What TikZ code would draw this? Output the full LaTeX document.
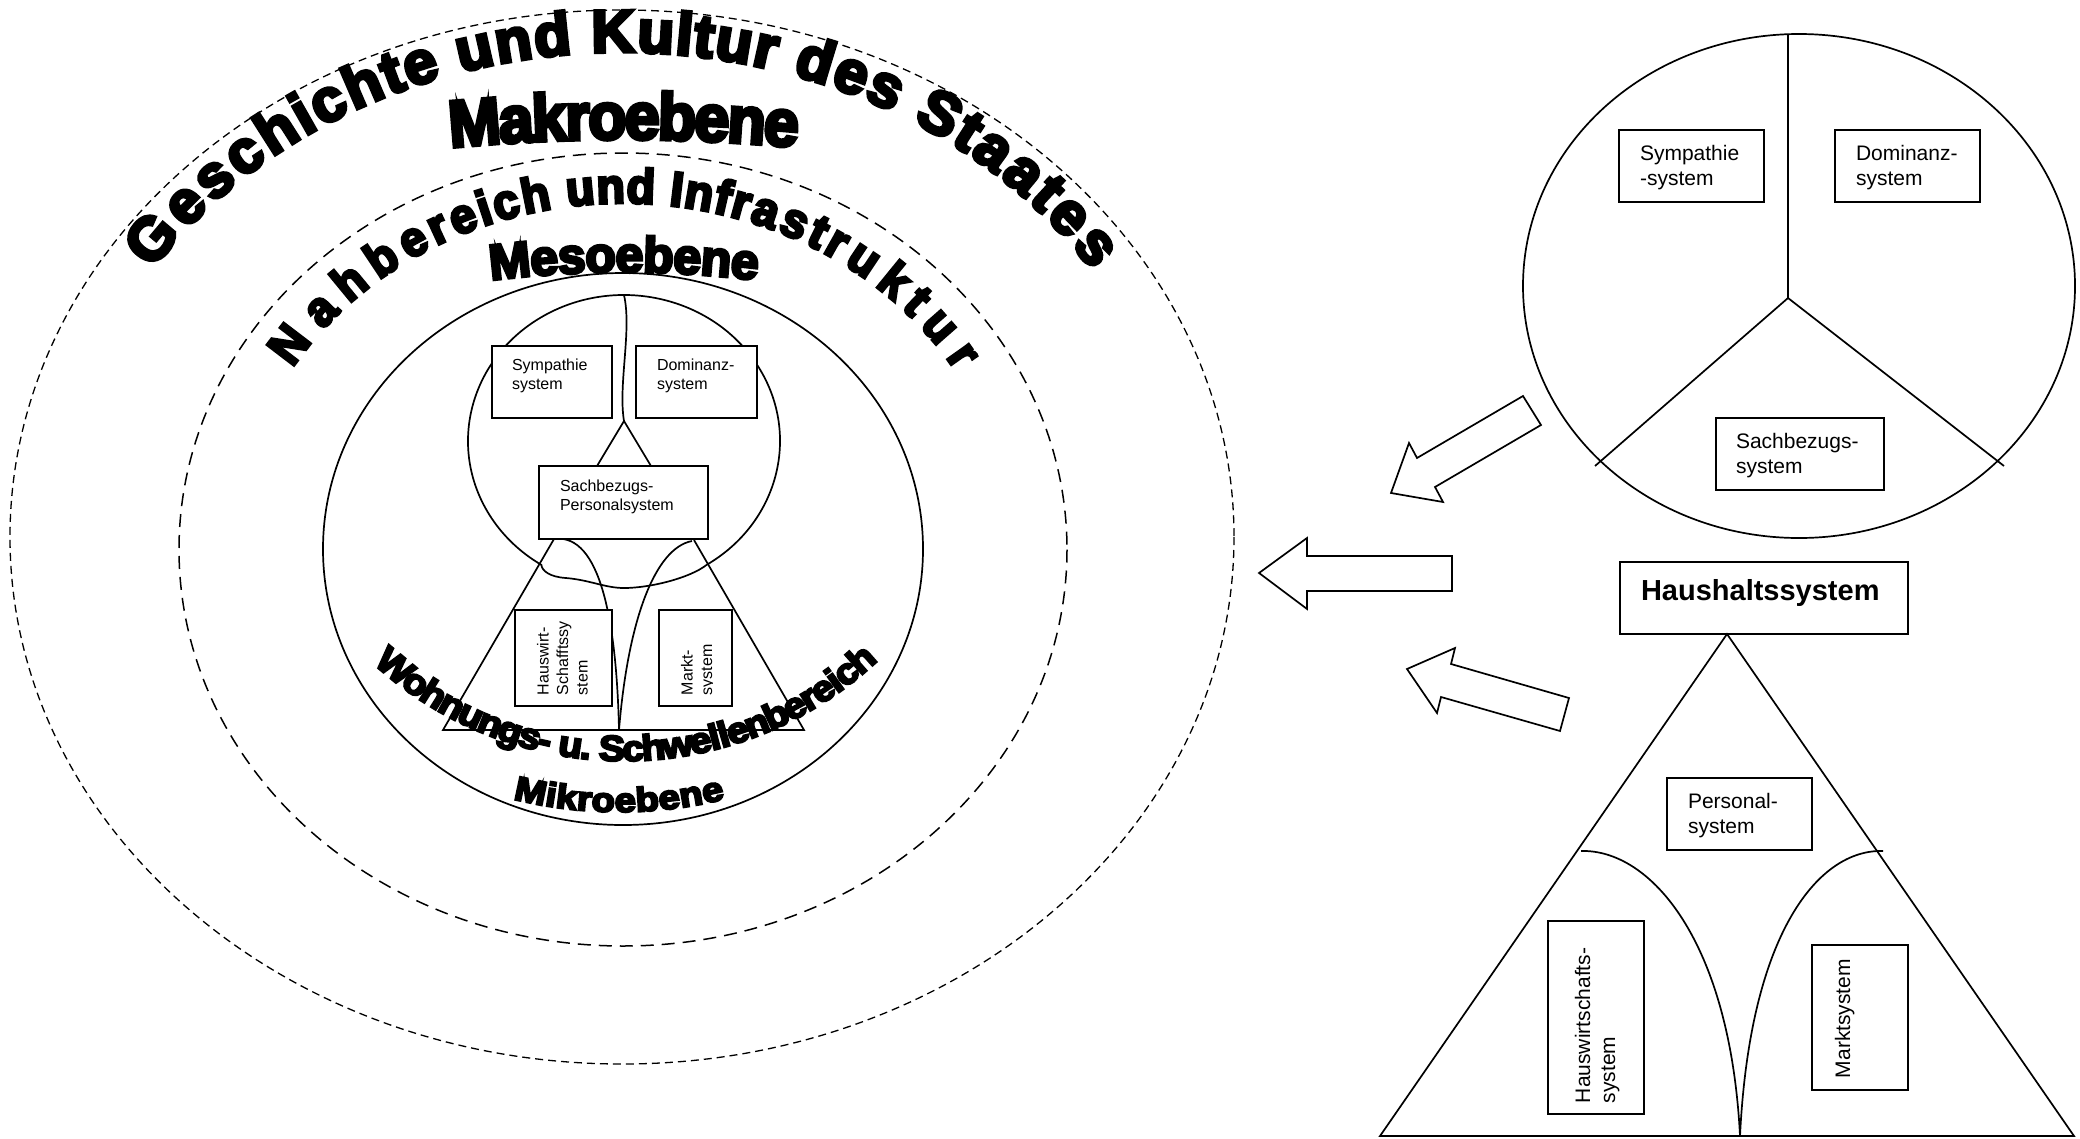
\documentclass[tikz,border=0pt]{standalone}
\usepackage{fontspec}
\setmainfont{Liberation Sans}
\newfontfamily\wafont{Liberation Sans}[BoldFeatures={FakeBold=6}]

% ---------- letters set one by one along an elliptic arc ----------
\newbox\archbox
\newcommand\arcgeom[8]{\def\archcx{#1}\def\archcy{#2}\def\archrx{#3}\def\archry{#4}%
  \def\archmid{#5}\def\archspan{#6}\def\archk{#7}\def\archdir{#8}}
\newcommand\arcfont[2]{%
  \def\archfont{\wafont\bfseries\fontsize{#1}{#1}\selectfont}%
  \def\archxs{#2}}
\newcommand\archmeasure[1]{%
  \setbox\archbox=\hbox{\pgfinterruptpicture\archfont#1\endpgfinterruptpicture}%
  \edef\archw{\the\wd\archbox}}
\newcommand\archtext[2]{% prefix, comma separated letters
  \gdef\archtot{0}%
  \foreach \ch in {#2}{%
    \archmeasure{\ch}%
    \pgfmathsetmacro\archtmp{\archtot+\archw}%
    \xdef\archtot{\archtmp}%
  }%
  \gdef\archacc{0}%
  \foreach \ch [count=\i] in {#2}{%
    \archmeasure{\ch}%
    \pgfmathsetmacro\archv{2*(\archacc+0.5*\archw)/\archtot-1}%
    \pgfmathsetmacro\archt{\archmid+(\archdir)*\archspan*((\archv)+\archk*(\archv)*(\archv)*(\archv))/(1+\archk)}%
    \pgfmathsetmacro\archrot{atan2(-1*(\archdir)*\archry*cos(\archt),-1*(\archdir)*\archrx*sin(\archt))}%
    \node[rotate=\archrot,ink letter] (#1-\i) at ({\archcx+\archrx*cos(\archt)},{\archcy+\archry*sin(\archt)}) {\archfont\ch};%
    \pgfmathsetmacro\archtmp{\archacc+\archw}%
    \xdef\archacc{\archtmp}%
  }%
}
% text block inside a box: width, height, top pad, left pad, lines
\newcommand\bxt[5]{\parbox[c][#2pt][t]{#1pt}{\vspace*{#3pt}\leftskip=#4pt\relax\strut #5}}

\begin{document}
\begin{tikzpicture}[x=1pt,y=-1pt,
  line/.style={line width=1.7pt},
  box/.style={draw,line width=1.7pt,fill=white,inner sep=0pt,outer sep=0pt},
  smallL/.style={font=\fontsize{16}{19.5}\selectfont},
  smallR/.style={font=\fontsize{21}{25}\selectfont},
  blockarrow/.style={draw,fill=white,line width=1.7pt,line join=miter},
  ink letter/.style={anchor=base,inner sep=0pt,outer sep=0pt,text=black,xscale=\archxs}]
\useasboundingbox (0,0) rectangle (2080,1138);
\fill[white] (0,0) rectangle (2080,1138);

% ================= left: nested levels =================
\draw[line width=1.3pt,dash pattern=on 8pt off 5pt] (622,537) ellipse [x radius=612,y radius=527];
\draw[line width=1.5pt,dash pattern=on 13pt off 8pt] (623,549.5) ellipse [x radius=444,y radius=396.5];
\draw[line] (623,549) ellipse [x radius=300,y radius=276];

% small circle with its uneven lower rim
\coordinate (rimR) at ({624+156*cos(58)},{441+146*sin(58)});
\draw[line] (rimR) arc[start angle=58,end angle=-238,x radius=156,y radius=146]
  .. controls (542,571) and (550,577) .. (566,578)
  .. controls (590,580) and (605,588) .. (624,588)
  .. controls (650,588) and (690,578) .. (rimR);

% dividing line and fork above the Sachbezugs box
\coordinate (topL) at (624,295);
\coordinate (splitL) at (624,421);
\draw[line] (topL) .. controls (632,330) and (618,385) .. (splitL);
\coordinate (forkA) at (597,466);
\coordinate (forkB) at (651,466);
\draw[line] (splitL) -- (forkA);
\draw[line] (splitL) -- (forkB);

% lower triangle with its two inner curves
\coordinate (triTL) at (554,539);
\coordinate (triBL) at (443,730);
\coordinate (triBR) at (804,730);
\coordinate (triTR) at (694,540);
\coordinate (cuspL) at (619,730);
\draw[line] (triTL) -- (triBL) -- (triBR) -- (triTR);
\draw[line] (563,539) .. controls (605,545) and (617,640) .. (cuspL);
\draw[line] (692,541) .. controls (655,548) and (628,620) .. (cuspL);

% boxes
\node[box,smallL,anchor=north west] (symL) at (492,346) {\bxt{120}{72}{10.5}{20}{Sympathie\\system}};
\node[box,smallL,anchor=north west] (domL) at (636,346) {\bxt{121}{72}{10.5}{21}{Dominanz-\\system}};
\node[box,smallL,anchor=north west] (sachL) at (539,466) {\bxt{169}{73}{11.5}{21}{Sachbezugs-\\Personalsystem}};
\node[box,smallL,rotate=90] (hauswL) at (563.5,658) {\bxt{96}{97}{20}{11}{Hauswirt-\\Schafftssy\\stem}};
\node[box,minimum width=73pt,minimum height=96pt] (marktL) at (695.5,658) {};
\begin{scope}
  \clip (659,610) rectangle (712,706);
  \node[smallL,rotate=90,inner sep=0pt] (marktLtxt) at (695.5,658) {\bxt{96}{73}{20}{11}{Markt-\\system}};
\end{scope}

% ================= right: circle of subsystems =================
\draw[line] (1799,286) ellipse [x radius=276,y radius=252];
\coordinate (hub) at (1788,298);
\coordinate (spokeT) at (1788,34);
\coordinate (spokeL) at (1595,466);
\coordinate (spokeR) at (2004,466);
\draw[line] (spokeT) -- (hub);
\draw[line] (hub) -- (spokeL);
\draw[line] (hub) -- (spokeR);
\node[box,smallR,anchor=north west] (symR) at (1619,130) {\bxt{145}{72}{12.5}{21}{Sympathie\\-system}};
\node[box,smallR,anchor=north west] (domR) at (1835,130) {\bxt{145}{72}{12.5}{21}{Dominanz-\\system}};
\node[box,smallR,anchor=north west] (sachR) at (1716,418) {\bxt{168}{72}{12.5}{20}{Sachbezugs-\\system}};

% ================= right: household triangle =================
\node[box,font=\bfseries\fontsize{29}{34}\selectfont,anchor=north west] (hausR) at (1620,562) {\bxt{288}{72}{15}{21}{Haushaltssystem}};
\coordinate (apex) at (1727,634);
\coordinate (baseL) at (1380,1136);
\coordinate (baseR) at (2074,1136);
\coordinate (cuspR) at (1740,1136);
\draw[line] (apex) -- (baseL) -- (baseR) -- cycle;
\draw[line] (1581,851) .. controls (1650,849) and (1730,940) .. (cuspR);
\draw[line] (1883,851) .. controls (1820,849) and (1750,930) .. (cuspR);
\node[box,smallR,anchor=north west] (persR) at (1667,778) {\bxt{145}{72}{13}{21}{Personal-\\system}};
\node[box,smallR,rotate=90] (hwsR) at (1596,1017.5) {\bxt{193}{96}{24.5}{11}{Hauswirtschafts-\\system}};
\node[box,smallR,rotate=90] (marktR) at (1860,1017.5) {\bxt{145}{96}{20.5}{12}{Marktsystem}};

% ================= block arrows =================
\draw[blockarrow] (1391,493) -- (1409,443) -- (1417,458) -- (1523,396) -- (1541,425) -- (1435,487) -- (1443,502) -- cycle;
\draw[blockarrow] (1259,573) -- (1307,538) -- (1307,556) -- (1452,556) -- (1452,591) -- (1307,591) -- (1307,609) -- cycle;
\draw[blockarrow] (1407,669) -- (1455,648) -- (1451,664) -- (1569,698) -- (1560,731) -- (1441,697) -- (1437,713) -- cycle;

% ================= curved headings =================
\arcgeom{622}{537}{563}{485}{270}{57}{0.08}{1}\arcfont{60}{1.0}
\archtext{outer}{G,e,s,c,h,i,c,h,t,e,~,u,n,d,~,K,u,l,t,u,r,~,d,e,s,~,S,t,a,a,t,e,s}
\arcgeom{624}{1969}{1830}{1830}{270}{5.4}{0}{1}\arcfont{66}{0.95}
\archtext{makro}{M,a,k,r,o,e,b,e,n,e}
\arcgeom{623}{549}{388}{346}{270}{60}{0.23}{1}\arcfont{49}{0.95}
\archtext{nah}{N,a,h,b,e,r,e,i,c,h,~,u,n,d,~,I,n,f,r,a,s,t,r,u,k,t,u,r}
\arcgeom{624}{1362}{1090}{1090}{270}{7}{0}{1}\arcfont{50}{1.0}
\archtext{meso}{M,e,s,o,e,b,e,n,e}
\arcgeom{624}{390}{371}{371}{89.6}{42.7}{0}{-1}\arcfont{36}{1.08}
\archtext{wohn}{W,o,h,n,u,n,g,s,-,~,u,.,~,S,c,h,w,e,l,l,e,n,b,e,r,e,i,c,h}
\arcgeom{619}{373}{439}{439}{90}{14}{0}{-1}\arcfont{34}{1.12}
\archtext{mikro}{M,i,k,r,o,e,b,e,n,e}
\end{tikzpicture}
\end{document}
